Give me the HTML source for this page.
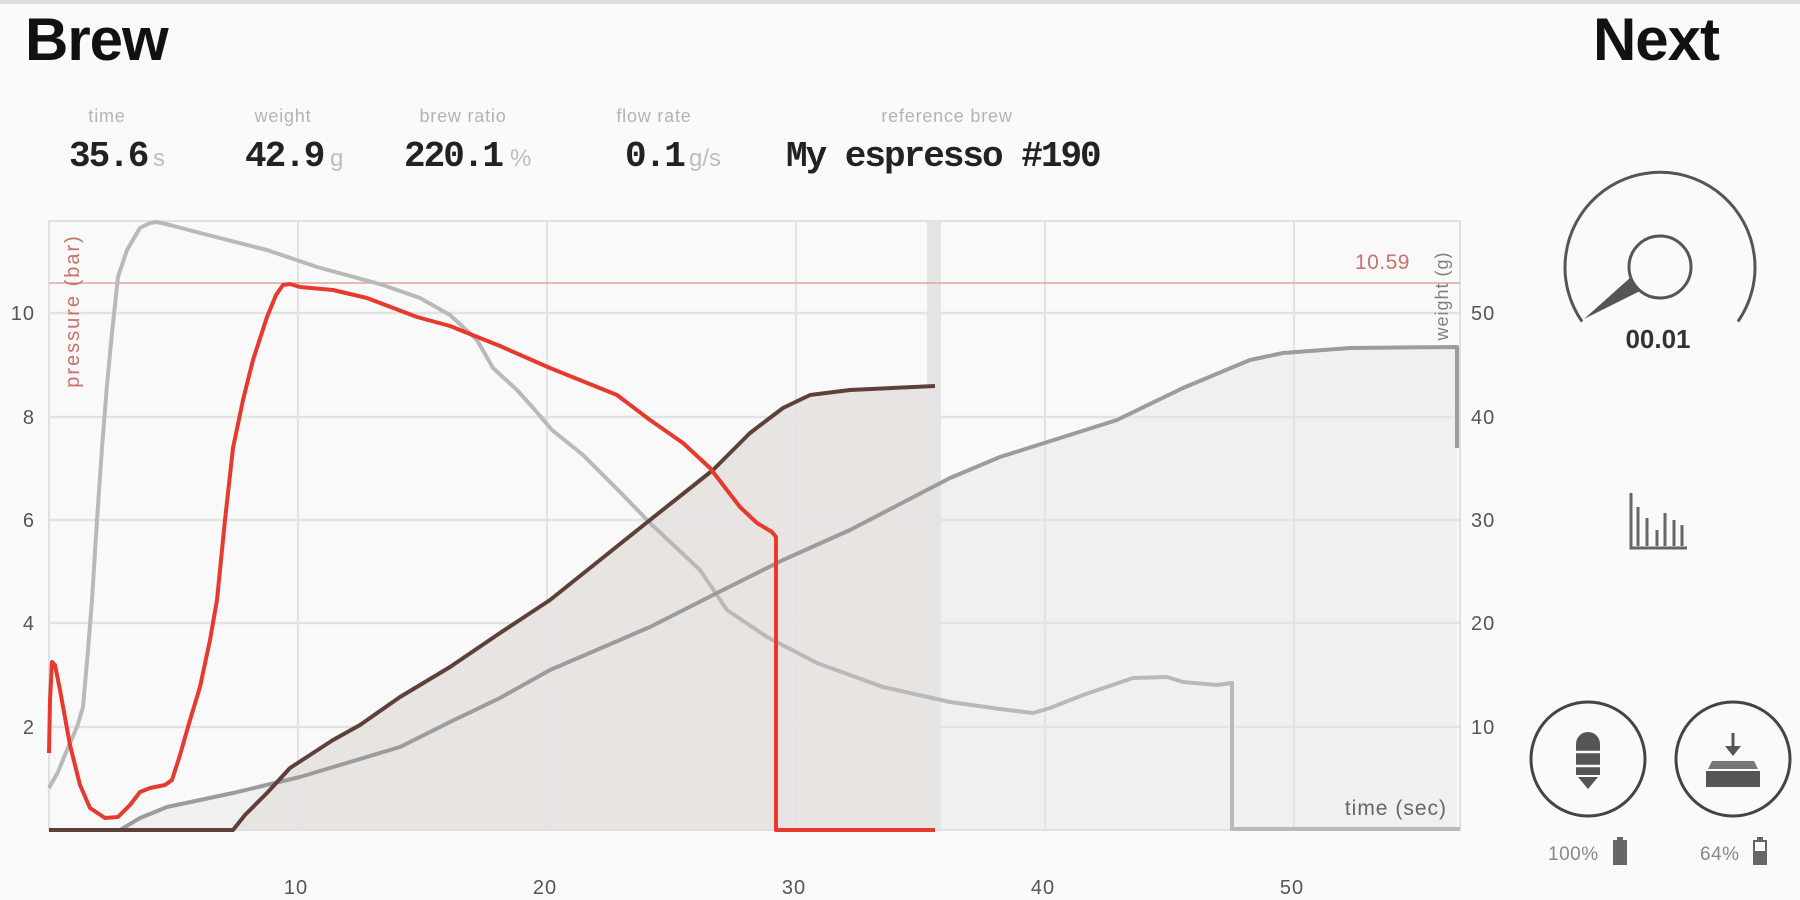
<!DOCTYPE html>
<html>
<head>
<meta charset="utf-8">
<style>
  html,body{margin:0;padding:0;background:#fafafa;}
  body{width:1800px;height:900px;overflow:hidden;}
  svg{display:block;}
  .sans{font-family:"Liberation Sans",sans-serif;}
  .mono{font-family:"Liberation Mono",monospace;font-weight:bold;}
</style>
</head>
<body>
<svg width="1800" height="900" viewBox="0 0 1800 900" xmlns="http://www.w3.org/2000/svg">
  <rect x="0" y="0" width="1800" height="900" fill="#fafafa"/>
  <rect x="0" y="0" width="1800" height="4" fill="#dcdcdc"/>

  <!-- Titles -->
  <text x="25" y="60" class="sans" font-size="60" font-weight="bold" fill="#111" letter-spacing="-1">Brew</text>
  <text x="1719" y="60" class="sans" font-size="60" font-weight="bold" fill="#111" text-anchor="end" letter-spacing="-1">Next</text>

  <!-- Stat labels -->
  <g class="sans" font-size="18" fill="#b3b3b3" text-anchor="middle" letter-spacing="0.8">
    <text x="107" y="122">time</text>
    <text x="283" y="122">weight</text>
    <text x="463" y="122">brew ratio</text>
    <text x="654" y="122">flow rate</text>
    <text x="947" y="122">reference brew</text>
  </g>
  <g class="mono" font-size="36" fill="#222" letter-spacing="-2">
    <text x="69" y="166">35.6</text>
    <text x="245" y="166">42.9</text>
    <text x="404" y="166">220.1</text>
    <text x="625" y="166">0.1</text>
    <text x="786" y="166">My espresso #190</text>
  </g>
  <g class="sans" font-size="24" fill="#bdbdbd">
    <text x="153" y="166">s</text>
    <text x="330" y="166">g</text>
    <text x="510" y="166">%</text>
    <text x="689" y="166">g/s</text>
  </g>

  <!-- Plot background -->
  <rect x="49" y="221" width="1411" height="609" fill="#f9f9f9"/>

  <!-- Reference weight fill -->
  <path d="M120,830 L140,818 L167,807 L200,800 L233,793 L300,777 L350,762 L400,747 L450,722 L500,698 L550,670 L650,627 L717,593 L783,560 L850,530 L950,478 L1000,457 L1117,420 L1183,388 L1250,360 L1283,353 L1350,348 L1457,347 L1457,830 Z" fill="#f0f0f0"/>
  <!-- Current weight fill -->
  <path d="M233,830 L245,815 L255,805 L267,793 L290,768 L310,755 L333,740 L360,725 L400,697 L450,667 L500,633 L550,600 L600,560 L650,520 L713,470 L750,433 L783,408 L810,395 L850,390 L935,386 L935,830 Z" fill="#e8e4e2"/>

  <!-- Grid -->
  <g stroke="#e3e3e3" stroke-width="2.5">
    <line x1="49" y1="313" x2="1460" y2="313"/>
    <line x1="49" y1="417" x2="1460" y2="417"/>
    <line x1="49" y1="520" x2="1460" y2="520"/>
    <line x1="49" y1="623" x2="1460" y2="623"/>
    <line x1="49" y1="727" x2="1460" y2="727"/>
  </g>
  <g stroke="#e3e3e3" stroke-width="2">
    <line x1="298" y1="221" x2="298" y2="830"/>
    <line x1="547" y1="221" x2="547" y2="830"/>
    <line x1="796" y1="221" x2="796" y2="830"/>
    <line x1="1045" y1="221" x2="1045" y2="830"/>
    <line x1="1294" y1="221" x2="1294" y2="830"/>
  </g>
  <rect x="49" y="221" width="1411" height="609" fill="none" stroke="#e0e0e0" stroke-width="2"/>

  <!-- current time band -->
  <rect x="927" y="221" width="14" height="609" fill="#e5e5e5"/>

  <!-- 10.59 line -->
  <line x1="49" y1="283" x2="1460" y2="283" stroke="#dca6a3" stroke-width="1.5"/>

  <!-- Reference pressure (grey) -->
  <path d="M49,788 L58,772 L67,750 L77,727 L83,707 L88,650 L92,600 L97,520 L102,448 L107,385 L112,333 L118,277 L127,250 L140,228 L150,223 L157,222 L170,225 L200,233 L267,250 L317,267 L383,285 L420,298 L450,315 L477,340 L493,368 L517,390 L535,410 L552,430 L583,455 L620,492 L650,523 L700,570 L727,610 L767,637 L817,663 L883,687 L950,702 L1000,709 L1033,713 L1050,708 L1083,695 L1133,678 L1167,677 L1183,682 L1217,685 L1232,683 L1232,829 L1460,829" fill="none" stroke="#b9b9b9" stroke-width="4" stroke-linejoin="round"/>

  <!-- Reference weight (grey) -->
  <path d="M120,830 L140,818 L167,807 L200,800 L233,793 L300,777 L350,762 L400,747 L450,722 L500,698 L550,670 L650,627 L717,593 L783,560 L850,530 L950,478 L1000,457 L1117,420 L1183,388 L1250,360 L1283,353 L1350,348 L1457,347 L1457,448" fill="none" stroke="#9c9c9c" stroke-width="4" stroke-linejoin="round"/>

  <!-- Current weight (brown) -->
  <path d="M49,830 L233,830 L245,815 L255,805 L267,793 L290,768 L310,755 L333,740 L360,725 L400,697 L450,667 L500,633 L550,600 L600,560 L650,520 L713,470 L750,433 L783,408 L810,395 L850,390 L935,386" fill="none" stroke="#5d4037" stroke-width="4" stroke-linejoin="round"/>

  <!-- Current pressure (red) -->
  <path d="M49,753 L50,700 L52,662 L55,665 L60,690 L70,745 L80,785 L90,808 L105,818 L118,817 L130,805 L140,792 L150,788 L165,785 L172,780 L180,755 L190,720 L200,687 L210,640 L217,600 L225,520 L233,448 L243,400 L253,360 L267,317 L276,295 L283,285 L290,284 L300,287 L333,290 L367,298 L417,317 L450,326 L500,346 L550,368 L617,395 L650,420 L683,443 L710,468 L740,507 L757,523 L772,532 L776,537 L776,830 L935,830" fill="none" stroke="#e53a2d" stroke-width="4" stroke-linejoin="round"/>

  <!-- Axis labels -->
  <g class="sans" font-size="20" fill="#555" text-anchor="end" letter-spacing="1">
    <text x="35" y="320">10</text>
    <text x="35" y="424">8</text>
    <text x="35" y="527">6</text>
    <text x="35" y="630">4</text>
    <text x="35" y="734">2</text>
  </g>
  <g class="sans" font-size="20" fill="#555" letter-spacing="1">
    <text x="1471" y="320">50</text>
    <text x="1471" y="424">40</text>
    <text x="1471" y="527">30</text>
    <text x="1471" y="630">20</text>
    <text x="1471" y="734">10</text>
  </g>
  <g class="sans" font-size="20" fill="#555" text-anchor="middle" letter-spacing="1">
    <text x="296" y="894">10</text>
    <text x="545" y="894">20</text>
    <text x="794" y="894">30</text>
    <text x="1043" y="894">40</text>
    <text x="1292" y="894">50</text>
  </g>
  <text class="sans" font-size="20" fill="#c9706a" text-anchor="middle" letter-spacing="2" transform="translate(79,311) rotate(-90)">pressure (bar)</text>
  <text class="sans" font-size="18" fill="#808080" text-anchor="middle" letter-spacing="1" transform="translate(1448,296) rotate(-90)">weight (g)</text>
  <text x="1410" y="269" class="sans" font-size="21" fill="#c8736e" text-anchor="end" letter-spacing="0.5">10.59</text>
  <text x="1447" y="815" class="sans" font-size="21" fill="#666" text-anchor="end" letter-spacing="1">time (sec)</text>

  <!-- Gauge -->
  <path d="M1582,321.5 A95,95 0 1 1 1738,321.5" fill="none" stroke="#555" stroke-width="3"/>
  <circle cx="1660" cy="267" r="31" fill="#fafafa" stroke="#555" stroke-width="3"/>
  <polygon points="1584,319 1631,277 1640,291" fill="#555"/>
  <text x="1658" y="348" class="sans" font-size="26" font-weight="bold" fill="#333" text-anchor="middle">00.01</text>

  <!-- Chart icon -->
  <g stroke="#666" fill="none">
    <polyline points="1631,493 1631,548 1687,548" stroke-width="3"/>
    <line x1="1638" y1="507" x2="1638" y2="546" stroke-width="3"/>
    <line x1="1647" y1="518" x2="1647" y2="546" stroke-width="3"/>
    <line x1="1657" y1="530" x2="1657" y2="546" stroke-width="3"/>
    <line x1="1665" y1="513" x2="1665" y2="546" stroke-width="3"/>
    <line x1="1674" y1="520" x2="1674" y2="546" stroke-width="3"/>
    <line x1="1682" y1="525" x2="1682" y2="546" stroke-width="3"/>
  </g>

  <!-- Bottom circular buttons -->
  <circle cx="1588" cy="759" r="57" fill="none" stroke="#444" stroke-width="3"/>
  <circle cx="1733" cy="759" r="57" fill="none" stroke="#444" stroke-width="3"/>
  <!-- left icon (bullet) -->
  <path d="M1576,744 A12,12 0 0 1 1600,744 L1600,775 L1576,775 Z" fill="#555"/>
  <polygon points="1578,777 1598,777 1588,789" fill="#555"/>
  <line x1="1575" y1="752" x2="1601" y2="752" stroke="#fafafa" stroke-width="2.5"/>
  <line x1="1575" y1="766" x2="1601" y2="766" stroke="#fafafa" stroke-width="2.5"/>
  <!-- right icon (scale) -->
  <line x1="1733" y1="733" x2="1733" y2="750" stroke="#555" stroke-width="3"/>
  <polygon points="1725,746 1741,746 1733,756" fill="#555"/>
  <polygon points="1712,761 1754,761 1758,769 1708,769" fill="#777"/>
  <rect x="1706" y="771" width="54" height="16" fill="#555"/>

  <!-- battery labels -->
  <g class="sans" font-size="19" fill="#888" letter-spacing="0.5">
    <text x="1548" y="860">100%</text>
    <text x="1700" y="860">64%</text>
  </g>
  <rect x="1617" y="837" width="6" height="3" fill="#666"/>
  <rect x="1613" y="840" width="14" height="25" fill="#666"/>
  <rect x="1757" y="837" width="6" height="3" fill="#666"/>
  <rect x="1754" y="841" width="12" height="23" fill="none" stroke="#666" stroke-width="2"/>
  <rect x="1753" y="851" width="14" height="14" fill="#666"/>
</svg>
</body>
</html>
